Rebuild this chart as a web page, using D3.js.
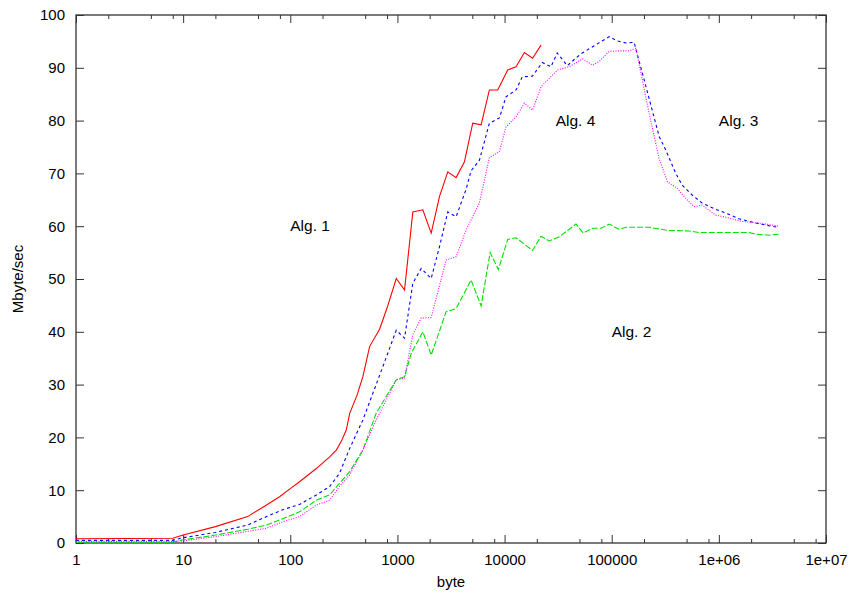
<!DOCTYPE html>
<html>
<head>
<meta charset="utf-8">
<script src="https://cdn.jsdelivr.net/npm/d3@7"></script>
<style>
  html, body { margin: 0; padding: 0; background: #fff; }
  #chart { width: 850px; height: 593px; }
  text { font-family: "Liberation Sans", Arial, Helvetica, sans-serif; fill: #000; }
</style>
</head>
<body>
<div id="chart"></div>
<script>
// x ticks (log scale) and their labels
const xMajorTicks = [1, 10, 100, 1000, 10000, 100000, 1e6, 1e7];
const xTickLabels = ["1", "10", "100", "1000", "10000", "100000", "1e+06", "1e+07"];
const xMinorTicks = [2, 5, 8, 20, 50, 80, 200, 500, 800, 2000, 5000, 8000,
  20000, 50000, 80000, 200000, 500000, 800000, 2e6, 5e6, 8e6];
const yTicks = [0, 10, 20, 30, 40, 50, 60, 70, 80, 90, 100];

// Alg. 1 (red, solid)
const alg1Bytes = [1, 8, 10, 20, 40, 60, 80, 100, 122, 175, 233, 269, 300, 333, 358, 420, 476, 550, 681, 800, 975,
  1165, 1392, 1726, 2066, 2468, 2950, 3532, 4220, 5045, 6040, 7215, 8630, 10700, 12800, 15300, 18270, 21880];
const alg1Rate = [0.8, 0.9, 1.5, 3.1, 5.0, 7.2, 8.8, 10.3, 11.6, 14.1, 16.3, 17.6, 19.3, 21.4, 24.5, 28.0, 31.5, 37.2, 40.5, 44.5, 50.1,
  47.9, 62.7, 63.1, 58.7, 65.6, 70.3, 69.2, 72.2, 79.5, 79.2, 85.8, 85.8, 89.6, 90.2, 92.9, 91.8, 94.3];

// Alg. 2 (green, long dashes)
const alg2Bytes = [1, 8, 10, 20, 40, 60, 85, 122, 175, 233, 288, 358, 476, 634, 975, 1165, 1345, 1726, 2066,
  2849, 3532, 4870, 6040, 7330, 8750, 10700, 12800, 18270, 21880, 26140, 32400, 46400, 54200, 66230, 79400,
  94800, 117500, 135600, 223500, 331500, 527000, 654000, 1.91e6, 2.21e6, 2.94e6, 3.64e6];
const alg2Rate = [0.15, 0.15, 0.6, 1.5, 2.6, 3.4, 4.6, 5.9, 8.1, 9.1, 11.3, 13.5, 17.6, 24.6, 30.9, 31.5, 35.9, 40.0, 35.6,
  43.8, 44.4, 49.8, 44.9, 55.0, 51.8, 57.5, 57.8, 55.4, 58.1, 57.2, 58.0, 60.4, 58.7, 59.6, 59.6,
  60.4, 59.4, 59.8, 59.8, 59.2, 59.1, 58.8, 58.8, 58.5, 58.3, 58.5];

// Alg. 3 (blue, short dashes)
const alg3Bytes = [1, 8, 10, 20, 40, 60, 85, 122, 175, 233, 288, 358, 476, 731, 975, 1165, 1392, 1667, 2066,
  2468, 2950, 3532, 4375, 4870, 5823, 7215, 8950, 10300, 12800, 14650, 18160, 22500, 27100, 31000, 38500,
  46700, 53100, 94800, 112000, 136000, 162000, 209000, 277000, 320000, 396000, 454000, 563000, 697000,
  935000, 1.16e6, 1.54e6, 2.21e6, 3.5e6];
const alg3Rate = [0.5, 0.5, 1.0, 2.0, 3.4, 5.0, 6.3, 7.3, 9.1, 10.7, 13.2, 17.9, 23.3, 33.4, 40.3, 38.8, 49.2, 52.0, 50.1,
  56.1, 62.7, 61.8, 67.0, 70.5, 72.5, 79.5, 80.5, 84.5, 85.8, 88.3, 88.4, 91.0, 90.2, 92.8, 90.4,
  91.9, 92.8, 95.9, 95.1, 94.7, 94.8, 86.4, 77.0, 74.4, 70.0, 67.8, 65.9, 64.4,
  63.2, 62.5, 61.4, 60.6, 59.8];

// Alg. 4 (magenta, dotted)
const alg4Bytes = [1, 8, 10, 20, 40, 60, 85, 122, 175, 233, 288, 358, 476, 634, 975, 1165, 1392, 1667, 2066,
  2849, 3532, 4375, 4870, 5823, 7215, 8950, 10300, 12800, 15300, 18270, 21880, 31260, 40180, 53450, 66230,
  76500, 94800, 113200, 145500, 168000, 223500, 277000, 331500, 408000, 474000, 587000, 697000, 935000,
  1.16e6, 1.64e6, 2.37e6, 3.64e6];
const alg4Rate = [0.3, 0.3, 0.4, 1.2, 2.2, 2.8, 4.0, 5.0, 7.2, 8.1, 10.7, 12.9, 17.6, 23.3, 30.9, 31.2, 39.5, 42.6, 42.7,
  53.6, 54.2, 59.3, 61.2, 64.4, 73.0, 74.1, 78.8, 80.7, 83.3, 82.0, 86.4, 89.6, 90.2, 91.7, 90.5,
  91.2, 93.1, 93.2, 93.2, 93.7, 81.4, 72.8, 68.4, 67.2, 65.6, 63.7, 64.0, 62.1,
  61.7, 60.9, 60.6, 60.0];

const series = [
  { bytes: alg1Bytes, rate: alg1Rate, color: "#ff0000", dash: null },
  { bytes: alg2Bytes, rate: alg2Rate, color: "#00e000", dash: "6,2" },
  { bytes: alg3Bytes, rate: alg3Rate, color: "#0000ff", dash: "3,3" },
  { bytes: alg4Bytes, rate: alg4Rate, color: "#ff00ff", dash: "1,1.5" }
];

// curve labels (left edge, baseline)
const curveLabels = [
  { text: "Alg. 1", bytes: 100, rate: 59 },
  { text: "Alg. 4", bytes: 30000, rate: 79 },
  { text: "Alg. 3", bytes: 1000000, rate: 79 },
  { text: "Alg. 2", bytes: 100000, rate: 39 }
];

const width = 850, height = 593;
const plotLeft = 76, plotRight = 826, plotTop = 15, plotBottom = 543;

const svg = d3.select("#chart").append("svg")
  .attr("width", width)
  .attr("height", height);

const x = d3.scaleLog().domain([1, 1e7]).range([plotLeft, plotRight]);
const y = d3.scaleLinear().domain([0, 100]).range([plotBottom, plotTop]);

function styleAxis(g) {
  g.select(".domain").remove();
  g.selectAll("line").attr("stroke", "#333");
  g.selectAll("text")
    .attr("font-size", 15)
    .attr("font-family", "Liberation Sans, Arial, sans-serif")
    .attr("fill", "#000");
}

// bottom axis with labels
svg.append("g")
  .attr("transform", `translate(0,${plotBottom})`)
  .call(d3.axisBottom(x).tickValues(xMajorTicks)
    .tickFormat((d, i) => xTickLabels[i])
    .tickSizeInner(-8).tickSizeOuter(0).tickPadding(11))
  .call(styleAxis);

svg.append("g")
  .attr("transform", `translate(0,${plotBottom})`)
  .call(d3.axisBottom(x).tickValues(xMinorTicks).tickFormat("")
    .tickSizeInner(-4).tickSizeOuter(0))
  .call(styleAxis);

// top mirror ticks
svg.append("g")
  .attr("transform", `translate(0,${plotTop})`)
  .call(d3.axisTop(x).tickValues(xMajorTicks).tickFormat("")
    .tickSizeInner(-8).tickSizeOuter(0))
  .call(styleAxis);

svg.append("g")
  .attr("transform", `translate(0,${plotTop})`)
  .call(d3.axisTop(x).tickValues(xMinorTicks).tickFormat("")
    .tickSizeInner(-4).tickSizeOuter(0))
  .call(styleAxis);

// left axis with labels
svg.append("g")
  .attr("transform", `translate(${plotLeft},0)`)
  .call(d3.axisLeft(y).tickValues(yTicks)
    .tickSizeInner(-8).tickSizeOuter(0).tickPadding(11))
  .call(styleAxis);

// right mirror ticks
svg.append("g")
  .attr("transform", `translate(${plotRight},0)`)
  .call(d3.axisRight(y).tickValues(yTicks).tickFormat("")
    .tickSizeInner(-8).tickSizeOuter(0))
  .call(styleAxis);

// frame
svg.append("rect")
  .attr("x", plotLeft)
  .attr("y", plotTop)
  .attr("width", plotRight - plotLeft)
  .attr("height", plotBottom - plotTop)
  .attr("fill", "none")
  .attr("stroke", "#333")
  .attr("stroke-width", 1.3);

// curves
const line = d3.line()
  .x(d => x(d[0]))
  .y(d => y(d[1]));

series.forEach(s => {
  const pts = s.bytes.map((b, i) => [b, s.rate[i]]);
  svg.append("path")
    .datum(pts)
    .attr("fill", "none")
    .attr("stroke", s.color)
    .attr("stroke-width", 1.1)
    .attr("stroke-dasharray", s.dash)
    .attr("d", line);
});

// curve labels
svg.selectAll(".curve-label")
  .data(curveLabels)
  .enter()
  .append("text")
  .attr("class", "curve-label")
  .attr("x", d => x(d.bytes))
  .attr("y", d => y(d.rate))
  .attr("font-size", 15.5)
  .text(d => d.text);

// axis titles
svg.append("text")
  .attr("x", (plotLeft + plotRight) / 2)
  .attr("y", 587)
  .attr("text-anchor", "middle")
  .attr("font-size", 15)
  .text("byte");

svg.append("text")
  .attr("transform", `translate(23,${(plotTop + plotBottom) / 2}) rotate(-90)`)
  .attr("text-anchor", "middle")
  .attr("font-size", 15)
  .text("Mbyte/sec");
</script>
</body>
</html>
